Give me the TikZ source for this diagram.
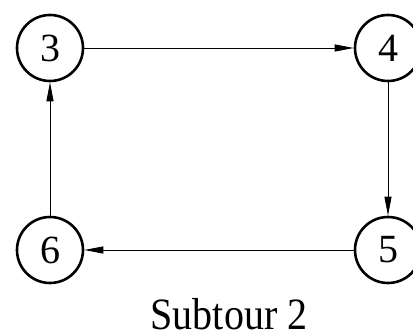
\documentclass[tikz,border=0pt]{standalone}
\usepackage{fontspec}
\setmainfont{Liberation Serif}
\usetikzlibrary{arrows.meta}
\begin{document}
\begin{tikzpicture}[x=1pt,y=-1pt,
  city/.style={circle,draw,line width=2.6pt,minimum size=66pt,inner sep=0pt,font=\fontsize{40}{40}\selectfont},
  edge/.style={line width=0.9pt,-{Triangle[length=19pt,width=7pt]}}]
\useasboundingbox (0,0) rectangle (413,336);
\clip (0,0) rectangle (413,336);
\node[city] (n3) at (50,48) {3};
\node[city] (n4) at (388,48) {4};
\node[city] (n5) at (388,250) {5};
\node[city] (n6) at (50,250) {6};
\draw[edge] (n3) -- (n4);
\draw[edge] (n4) -- (n5);
\draw[edge] (n5) -- (n6);
\draw[edge] (n6) -- (n3);
\node[font=\fontsize{40}{40}\selectfont,inner sep=0pt,anchor=base] (cap) at (229,330) {\raisebox{0pt}[\height][0pt]{\scalebox{1}[1.12]{Subtour 2}}};
\end{tikzpicture}
\end{document}
